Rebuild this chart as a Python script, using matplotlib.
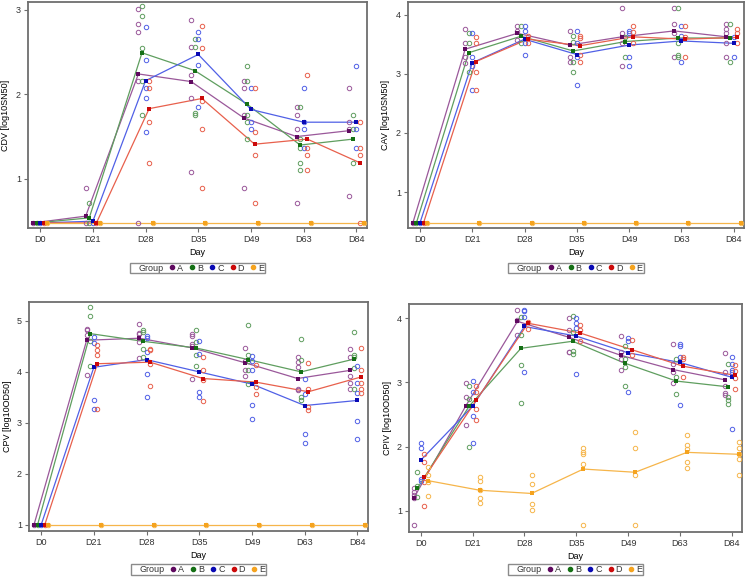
import numpy as np
import matplotlib
matplotlib.use("Agg")
import matplotlib.pyplot as plt
from matplotlib.lines import Line2D

DAYS = ["D0", "D21", "D28", "D35", "D49", "D63", "D84"]
GROUPS = ["A", "B", "C", "D", "E"]

# ---- CDV [log10SN50]
cdv_mean = {
    "A": [0.48, 0.56, 2.24, 2.15, 1.72, 1.50, 1.57],
    "B": [0.48, 0.54, 2.49, 2.28, 1.88, 1.40, 1.47],
    "C": [0.48, 0.50, 2.16, 2.47, 1.82, 1.67, 1.67],
    "D": [0.48, 0.48, 1.83, 1.95, 1.41, 1.47, 1.19],
    "E": [0.48, 0.48, 0.48, 0.48, 0.48, 0.48, 0.48],
}
cdv_pts = {
    "A": [[0.48], [0.89, 0.48], [3.01, 2.83, 2.74, 2.16, 0.48], [2.88, 2.56, 2.23, 1.96, 1.08],
          [2.16, 2.07, 1.75, 0.89], [1.85, 1.75, 1.59, 0.71], [2.07, 1.67, 1.59, 0.80]],
    "B": [[0.48], [0.72, 0.48], [3.04, 2.92, 2.55, 2.16, 1.75], [2.65, 2.56, 1.78, 1.76],
          [2.33, 2.16, 1.75, 1.67, 1.47], [1.85, 1.47, 1.36, 1.19, 1.11], [1.75, 1.59, 1.19]],
    "C": [[0.48], [0.48], [2.80, 2.40, 2.07, 1.96, 1.56], [2.74, 2.65, 2.35, 1.85],
          [2.07, 1.67, 1.59], [2.07, 1.67, 1.59, 1.36], [2.33, 1.59, 1.36]],
    "D": [[0.48], [0.48], [2.16, 2.07, 1.67, 1.19], [2.81, 2.55, 1.92, 1.59, 0.89],
          [2.07, 1.56, 1.28, 0.71], [2.23, 1.36, 1.28, 1.11], [1.67, 1.36, 1.28, 0.48]],
    "E": [[0.48], [0.48], [0.48], [0.48], [0.48], [0.48], [0.48]],
}

# ---- CAV [log10SN50]
cav_mean = {
    "A": [0.48, 3.42, 3.69, 3.49, 3.63, 3.73, 3.63],
    "B": [0.48, 3.36, 3.64, 3.39, 3.55, 3.61, 3.61],
    "C": [0.48, 3.19, 3.59, 3.33, 3.49, 3.56, 3.52],
    "D": [0.48, 3.21, 3.59, 3.48, 3.63, 3.59, 3.62],
    "E": [0.48, 0.48, 0.48, 0.48, 0.48, 0.48, 0.48],
}
cav_pts = {
    "A": [[0.48], [3.77, 3.52, 3.29, 3.19], [3.82, 3.73, 3.57], [3.73, 3.29, 3.20],
          [4.12, 3.69, 3.52, 3.13], [4.12, 3.84, 3.69, 3.29], [3.84, 3.77, 3.69, 3.52, 3.29]],
    "B": [[0.48], [3.69, 3.52, 3.04], [3.82, 3.52], [3.64, 3.55, 3.20, 3.04],
          [3.62, 3.29], [4.12, 3.52, 3.32, 3.28], [3.84, 3.20]],
    "C": [[0.48], [3.69, 3.29, 3.13, 2.73], [3.82, 3.73, 3.52, 3.32], [3.73, 3.52, 3.29, 2.82],
          [3.73, 3.69, 3.29, 3.13], [3.82, 3.64, 3.20], [3.62, 3.29]],
    "D": [[0.48], [3.62, 3.52, 3.04, 2.73], [3.64, 3.52], [3.64, 3.61, 3.32, 3.20],
          [3.82, 3.72, 3.52], [3.82, 3.62, 3.29], [3.77, 3.69, 3.52]],
    "E": [[0.48], [0.48], [0.48], [0.48], [0.48], [0.48], [0.48]],
}

# ---- CPV [log10OD50]
cpv_mean = {
    "A": [1.0, 4.62, 4.66, 4.47, 4.18, 3.87, 4.03],
    "B": [1.0, 4.75, 4.60, 4.47, 4.24, 4.00, 4.25],
    "C": [1.0, 4.09, 4.24, 4.00, 3.76, 3.34, 3.44],
    "D": [1.0, 4.16, 4.19, 3.87, 3.80, 3.61, 3.90],
    "E": [1.0, 1.0, 1.0, 1.0, 1.0, 1.0, 1.0],
}
cpv_pts = {
    "A": [[1.0], [4.85, 4.83, 4.73, 3.94], [4.94, 4.76, 4.74, 4.58, 4.27], [4.75, 4.70, 4.54, 4.51, 3.87],
          [4.46, 4.22, 4.03, 3.92], [4.29, 4.20, 4.09, 3.67, 3.64], [4.44, 4.29, 3.92, 3.78, 3.67]],
    "B": [[1.0], [5.27, 5.10, 4.60, 4.12], [4.83, 4.78, 4.45, 4.29], [4.83, 4.58, 4.34, 4.11],
          [4.92, 4.33, 4.21, 4.03, 3.77], [4.65, 4.24, 3.51, 3.44], [4.78, 4.33, 4.29, 4.08, 3.67]],
    "C": [[1.0], [4.68, 4.57, 3.44, 3.27], [4.71, 4.67, 4.39, 3.96, 3.51], [4.60, 4.36, 3.61, 3.50],
          [4.31, 4.21, 4.03, 3.35, 3.08], [3.87, 3.56, 2.78, 2.61], [4.12, 3.78, 3.59, 3.03, 2.68]],
    "D": [[1.0], [4.52, 4.42, 4.34, 3.28], [4.44, 4.42, 4.16, 3.73], [4.29, 4.03, 3.84, 3.42],
          [4.13, 3.70, 3.56], [4.18, 3.67, 3.31, 3.26], [4.46, 4.03, 3.78, 3.67, 3.59]],
    "E": [[1.0], [1.0], [1.0], [1.0], [1.0], [1.0], [1.0]],
}

# ---- CPIV [log10OD50]
cpiv_mean = {
    "A": [1.20, 2.63, 3.95, 3.70, 3.42, 3.20, 3.04],
    "B": [1.35, 2.63, 3.53, 3.64, 3.30, 3.02, 2.93],
    "C": [1.79, 2.63, 3.87, 3.72, 3.46, 3.31, 3.08],
    "D": [1.52, 2.72, 3.92, 3.77, 3.51, 3.25, 3.11],
    "E": [1.47, 1.32, 1.27, 1.65, 1.60, 1.91, 1.88],
}
cpiv_pts = {
    "A": [[1.35, 1.30, 1.24, 1.20, 0.78], [2.99, 2.77, 2.34], [4.13, 3.97, 3.74], [4.00, 3.82, 3.48, 3.47],
          [3.72, 3.47, 3.36, 3.20], [3.60, 3.29, 3.16, 2.99], [3.46, 3.16, 2.94, 2.84, 2.81]],
    "B": [[1.61, 1.38, 1.21], [2.95, 2.74, 2.00], [4.02, 3.74, 3.27, 2.68], [4.03, 3.79, 3.49, 3.44],
          [3.57, 3.37, 3.24, 2.95], [3.37, 3.08, 2.82], [3.29, 2.77, 2.72, 2.67]],
    "C": [[2.05, 1.98, 1.50, 1.47], [3.02, 2.85, 2.48, 2.05], [4.13, 4.11, 4.02, 3.16], [4.00, 3.93, 3.84, 3.13],
          [3.69, 3.65, 2.85], [3.60, 3.56, 3.39, 2.65], [3.39, 3.29, 3.20, 3.16, 2.28]],
    "D": [[1.88, 1.76, 1.45, 1.07], [2.95, 2.85, 2.59, 2.41], [3.94, 3.83], [3.90, 3.82, 3.64],
          [3.66, 3.42], [3.39, 3.36, 3.08], [3.27, 3.17, 3.07, 2.89]],
    "E": [[1.68, 1.55, 1.45, 1.23], [1.52, 1.46, 1.32, 1.20, 1.12], [1.55, 1.42, 1.11, 1.02],
          [1.98, 1.92, 1.88, 1.73, 0.78], [2.23, 1.98, 1.55, 0.78], [2.18, 2.02, 1.96, 1.76, 1.67],
          [2.07, 1.98, 1.88, 1.80, 1.55]],
}

DARK = {"A": "#600a60", "B": "#157015", "C": "#0a0ab4", "D": "#cc0a0a", "E": "#f5a31e"}
LIGHT = {"A": "#9a589a", "B": "#5f9e5f", "C": "#5060e6", "D": "#e8604c", "E": "#f6b54a"}
OFFS = [-0.136, -0.068, 0.0, 0.068, 0.136]
FRAME = "#6e6e6e"
TXT = "#333333"

plt.rcParams.update({"font.family": ["Liberation Sans", "DejaVu Sans"], "font.size": 6.5,
                     "text.color": TXT, "xtick.color": TXT, "ytick.color": TXT})

fig = plt.figure(figsize=(7.48, 5.78), dpi=100)
W, H = 748, 578


def add_ax(l, r, t, b):
    return fig.add_axes([l / W, 1 - b / H, (r - l) / W, (b - t) / H])


def panel(ax, means, pts, ylim, yticks, ylabel, leg_y):
    x0 = np.arange(len(DAYS))
    for gi, g in enumerate(GROUPS):
        xs = x0 + OFFS[gi]
        ax.plot(xs, means[g], color=LIGHT[g], lw=0.9, zorder=2)
        for d, vals in enumerate(pts[g]):
            ax.plot([xs[d]] * len(vals), vals, "o", mfc="none", mec=LIGHT[g],
                    ms=3.2, mew=0.7, zorder=3)
        ax.plot(xs, means[g], "s", color=DARK[g], ms=3.0, mew=0, zorder=4)
    ax.set_xlim(-0.23, 6.2)
    ax.set_ylim(*ylim)
    ax.set_xticks(x0)
    ax.set_xticklabels(DAYS)
    ax.set_yticks(yticks)
    ax.set_xlabel("Day", labelpad=3)
    ax.set_ylabel(ylabel, labelpad=4)
    for s in ax.spines.values():
        s.set_color(FRAME)
        s.set_linewidth(1.3)
    ax.tick_params(direction="out", length=3, width=0.8, color=FRAME, pad=2)
    handles = [Line2D([], [], ls="none")] + [
        Line2D([], [], marker="o", ls="none", color=DARK[g], ms=3) for g in GROUPS]
    leg = ax.legend(handles, ["Group"] + GROUPS, loc="center", bbox_to_anchor=(0.5, leg_y),
                    ncol=6, frameon=True, fancybox=False, handlelength=0.5, handletextpad=0.3,
                    columnspacing=0.75, borderpad=0.1, borderaxespad=0, fontsize=6.5)
    leg.get_frame().set_edgecolor(FRAME)
    leg.get_frame().set_linewidth(1.0)


ax1 = add_ax(28, 367, 2, 228)
panel(ax1, cdv_mean, cdv_pts, (0.42, 3.09), [1, 2, 3], "CDV [log10SN50]", -0.177)
ax2 = add_ax(408, 744, 2, 228)
panel(ax2, cav_mean, cav_pts, (0.39, 4.22), [1, 2, 3, 4], "CAV [log10SN50]", -0.177)
ax3 = add_ax(29, 368, 302, 531)
panel(ax3, cpv_mean, cpv_pts, (0.88, 5.37), [1, 2, 3, 4, 5], "CPV [log10OD50]", -0.168)
ax4 = add_ax(409, 742, 304, 532)
panel(ax4, cpiv_mean, cpiv_pts, (0.67, 4.22), [1, 2, 3, 4], "CPIV [log10OD50]", -0.165)

fig.savefig("out.png", dpi=100, facecolor="white")
